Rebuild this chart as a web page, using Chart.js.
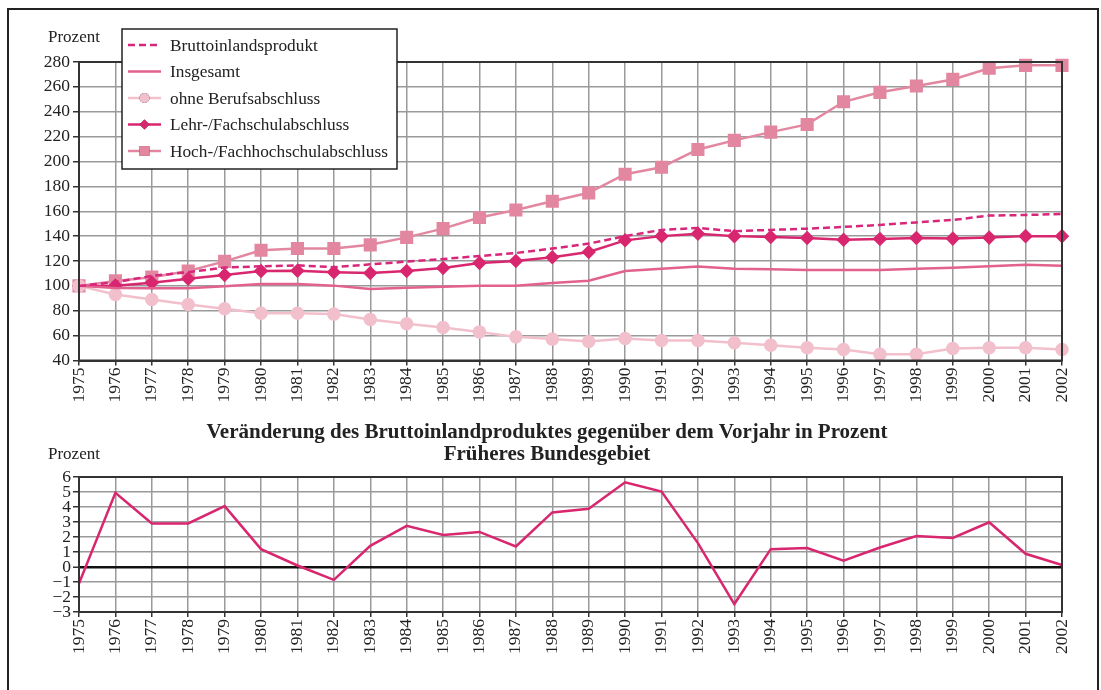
<!DOCTYPE html>
<html>
<head>
<meta charset="utf-8">
<script src="https://cdn.jsdelivr.net/npm/chart.js@4.4.1/dist/chart.umd.min.js"></script>
<style>
  body { margin: 0; background: #fff; font-family: "Liberation Serif", "Times New Roman", serif; }
  .frame { position: absolute; left: 7px; top: 8px; width: 1088px; height: 700px; border: 2px solid #222; }
  .box { position: absolute; left: 0; width: 1101px; }
  .lbl { position: absolute; font-size: 17px; color: #222; }
  .title { position: absolute; left: 147px; width: 800px; text-align: center; font-weight: bold; font-size: 21px; line-height: 22px; color: #222; white-space: nowrap; }
</style>
</head>
<body>
<div class="frame"></div>
<div class="box" style="top:0;height:420px"><canvas id="chart1"></canvas></div>
<div class="box" style="top:420px;height:270px"><canvas id="chart2"></canvas></div>
<div class="lbl" style="left:48px;top:27px">Prozent</div>
<div class="lbl" style="left:48px;top:444px">Prozent</div>
<div class="title" style="top:420px">Veränderung des Bruttoinlandproduktes gegenüber dem Vorjahr in Prozent<br>Früheres Bundesgebiet</div>
<script>
var years = ["1975","1976","1977","1978","1979","1980","1981","1982","1983","1984","1985","1986","1987","1988",
  "1989","1990","1991","1992","1993","1994","1995","1996","1997","1998","1999","2000","2001","2002"];

var bip = [100,103,108,111,114.7,115.7,116.5,115,117.3,119.5,121.6,124,126.4,130,134,140,145,146.6,144,145,146,147.4,149,151,153,156.5,157,157.8];
var insgesamt = [100,98.2,98,98,99.6,101.5,101.5,100.2,97.5,98.5,99.3,100.2,100.2,102.3,104.2,112,113.8,115.5,113.8,113.3,112.7,112.7,112.7,113.8,114.6,115.7,117,116.2];
var ohneAbschluss = [100,93,89,85,81.6,78,78,77.3,73,69.5,66.6,63,59,57.2,55.3,57.7,56,56,54.2,52.3,50.2,48.9,45,45,49.7,50.2,50.2,48.9];
var lehrFach = [100,100.2,102.6,105.8,108.7,112,112.2,111,110.3,112,114.3,118.4,120,123,127.2,136.6,140,142,140,139.3,138.5,137,137.7,138.5,138,138.8,140,140];
var hochschule = [100,104,107,112,119.7,128.6,130,130,133,139,146,155,161,168,174.8,189.8,195.4,209.7,217,223.6,229.8,248,255.6,260.7,266,275,277.3,277.3];

var bipChange = [-1.1,4.94,2.9,2.9,4.06,1.19,0.1,-0.86,1.41,2.74,2.14,2.34,1.37,3.64,3.88,5.65,5.03,1.59,-2.47,1.19,1.26,0.42,1.3,2.07,1.94,2.98,0.88,0.13];

var serif = '"Liberation Serif", "Times New Roman", serif';
Chart.defaults.font.family = serif;
Chart.defaults.color = "#222";

// dark frame around the plot area
var plotBorder = {
  id: "plotBorder",
  afterDraw: function (chart) {
    var a = chart.chartArea, c = chart.ctx;
    c.save();
    c.strokeStyle = "#333";
    c.lineWidth = 2;
    c.strokeRect(a.left, a.top, a.right - a.left, a.bottom - a.top);
    c.restore();
  }
};

// legend box drawn over the upper left of the plot
var boxLegend = {
  id: "boxLegend",
  afterDraw: function (chart) {
    var c = chart.ctx;
    c.save();
    c.fillStyle = "#fff";
    c.fillRect(122, 29, 275, 140);
    c.strokeStyle = "#222";
    c.lineWidth = 1.5;
    c.strokeRect(122, 29, 275, 140);
    c.font = "17.3px " + serif;
    c.textBaseline = "middle";
    chart.data.datasets.forEach(function (ds, i) {
      var y = 45 + i * 26.5;
      c.strokeStyle = ds.borderColor;
      c.lineWidth = ds.borderWidth;
      c.setLineDash(ds.borderDash || []);
      c.beginPath();
      c.moveTo(128, y);
      c.lineTo(161, y);
      c.stroke();
      c.setLineDash([]);
      if (ds.pointRadius > 0) {
        Chart.helpers.drawPoint(c, {
          pointStyle: ds.pointStyle, radius: ds.pointRadius - 0.5, borderWidth: 0
        }, 144.5, y);
        c.fillStyle = ds.pointBackgroundColor;
        c.fill();
      }
      c.fillStyle = "#222";
      c.fillText(ds.label, 170, y + 1);
    });
    c.restore();
  }
};

function xScale(h) {
  return {
    offset: false,
    grid: { color: "#9a9a9a", lineWidth: 1.5, tickLength: 5, tickColor: "#333", tickWidth: 1.5 },
    border: { color: "#333", width: 2 },
    ticks: { font: { size: 17.5 }, color: "#222", minRotation: 90, maxRotation: 90, autoSkip: false, padding: 2 },
    afterFit: function (s) { s.height = h; }
  };
}

function series(label, data, color, style, radius, dash) {
  return {
    label: label, data: data,
    borderColor: color, backgroundColor: color,
    pointBackgroundColor: color, pointBorderColor: color,
    borderWidth: 2.5, borderDash: dash,
    pointStyle: style, pointRadius: radius, pointHoverRadius: radius,
    tension: 0, clip: false
  };
}

new Chart(document.getElementById("chart1"), {
  type: "line",
  data: {
    labels: years,
    datasets: [
      series("Bruttoinlandsprodukt", bip, "#d8267a", "circle", 0, [7, 4]),
      series("Insgesamt", insgesamt, "#e2618e", "circle", 0),
      series("ohne Berufsabschluss", ohneAbschluss, "#f2bfcc", "circle", 5.5),
      series("Lehr-/Fachschulabschluss", lehrFach, "#d8266f", "rectRot", 5.5),
      series("Hoch-/Fachhochschulabschluss", hochschule, "#e387a1", "rect", 7.5)
    ]
  },
  options: {
    responsive: true, maintainAspectRatio: false, animation: false,
    layout: { padding: { left: 0, right: 39, top: 62, bottom: 0 } },
    plugins: { legend: { display: false }, tooltip: { enabled: false } },
    scales: {
      x: xScale(59.5),
      y: {
        min: 40, max: 280,
        grid: { color: "#9a9a9a", lineWidth: 1.5, tickLength: 6, tickColor: "#333", tickWidth: 1.5 },
        border: { color: "#333", width: 2 },
        ticks: { stepSize: 20, font: { size: 17.5 }, color: "#222", padding: 3, autoSkip: false },
        afterFit: function (s) { s.width = 79; }
      }
    }
  },
  plugins: [plotBorder, boxLegend]
});

new Chart(document.getElementById("chart2"), {
  type: "line",
  data: {
    labels: years,
    datasets: [
      series("Veränderung des Bruttoinlandproduktes", bipChange, "#d8266f", "circle", 0)
    ]
  },
  options: {
    responsive: true, maintainAspectRatio: false, animation: false,
    layout: { padding: { left: 0, right: 39, top: 57, bottom: 0 } },
    plugins: { legend: { display: false }, tooltip: { enabled: false } },
    scales: {
      x: xScale(78),
      y: {
        min: -3, max: 6,
        grid: {
          color: function (ctx) { return ctx.tick && ctx.tick.value === 0 ? "#111" : "#9a9a9a"; },
          lineWidth: function (ctx) { return ctx.tick && ctx.tick.value === 0 ? 2.5 : 1.5; },
          tickLength: 6, tickColor: "#333", tickWidth: 1.5
        },
        border: { color: "#333", width: 2 },
        ticks: {
          stepSize: 1, font: { size: 17.5, lineHeight: 1 }, color: "#222", padding: 2, autoSkip: false,
          callback: function (v) { return v < 0 ? "\u2212" + Math.abs(v) : String(v); }
        },
        afterFit: function (s) { s.width = 79; }
      }
    }
  },
  plugins: [plotBorder]
});
</script>
</body>
</html>
